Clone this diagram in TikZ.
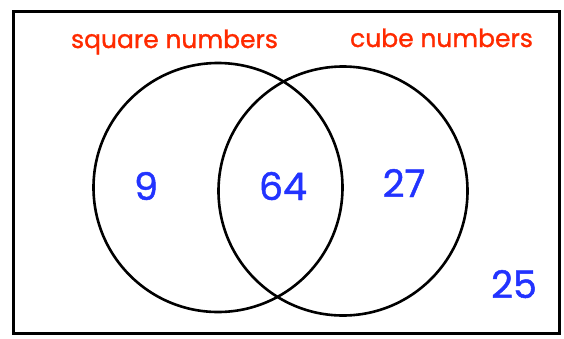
\documentclass[tikz,border=0pt]{standalone}
\usepackage{fontspec}
\setmainfont{Poppins}
\newfontfamily\heavyfont[FakeBold=1.2]{Poppins}
\definecolor{lblred}{HTML}{FF2A00}
\definecolor{numblue}{HTML}{2233FF}
\begin{document}
\begin{tikzpicture}[x=1pt,y=-1pt,
  setline/.style={line width=2.6pt, black},
  frame/.style={line width=3pt, black},
  setlabel/.style={text=lblred, font=\heavyfont\fontsize{25}{30}\selectfont, anchor=base, inner sep=0pt},
  num/.style={text=numblue, font=\heavyfont\fontsize{38}{44}\selectfont, anchor=base, inner sep=0pt}]
\useasboundingbox (0,0) rectangle (564,338);
\draw[frame] (13,11) rectangle (559,333);
\draw[setline] (218,187.5) circle[radius=124.5];
\draw[setline] (343,191) circle[radius=124.5];
\node[setlabel] (sq) at (174.5,48) {square numbers};
\node[setlabel] (cu) at (441.5,47) {cube numbers};
\node[num] (n9) at (146,200) {9};
\node[num] (n64) at (283,200) {64};
\node[num] (n27) at (404,197) {27};
\node[num] (n25) at (514,298) {25};
\end{tikzpicture}
\end{document}
